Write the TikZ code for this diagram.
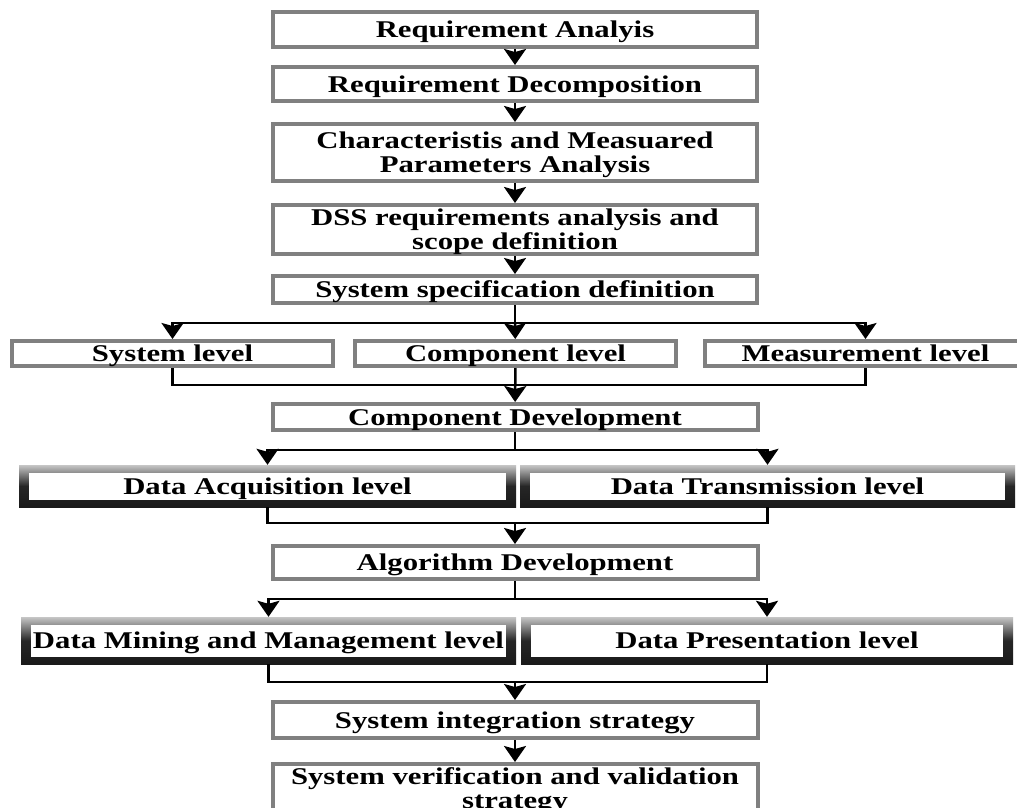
\documentclass[tikz,border=0pt]{standalone}
\usepackage{fontspec}
\usetikzlibrary{arrows.meta}
\newfontfamily\boxfont{Liberation Serif}[FakeStretch=1.28]
\definecolor{bord}{HTML}{808080}
\tikzset{
  oneline/.style={text height=16pt, text depth=0pt},
  twoline/.style={text height=40pt, text depth=0pt},
  box/.style={draw=bord, line width=4pt, fill=white, inner sep=0pt, align=center,
    font=\boxfont\bfseries\fontsize{24}{24}\selectfont, text=black, oneline},
  bevel/.style={inner sep=0pt, align=center, top color=gray!45, bottom color=black!90,
    middle color=black!85, draw=none, oneline,
    font=\boxfont\bfseries\fontsize{24}{24}\selectfont, text=black,
    path picture={\fill[white] ([xshift=10pt,yshift=-8pt]path picture bounding box.north west)
      rectangle ([xshift=-10pt,yshift=7pt]path picture bounding box.south east);}},
  conn/.style={draw=black, line width=2.5pt},
  arr/.style={conn, -{Stealth[length=16pt,width=22pt,inset=3pt]}}
}
\begin{document}
\begin{tikzpicture}[x=1pt,y=-1pt]
\useasboundingbox (0,0) rectangle (1017,807);
\fill[white] (0,0) rectangle (1017,807);
\clip (0,0) rectangle (1017,807);
% top chain
\node[box, minimum width=484pt, minimum height=35pt] (ra) at (515,29.5) {Requirement Analyis};
\node[box, minimum width=484pt, minimum height=34pt] (rd) at (515,84) {Requirement Decomposition};
\node[box, twoline, minimum width=484pt, minimum height=57pt] (cp) at (515,152.5) {Characteristis and Measuared\\Parameters Analysis};
\node[box, twoline, minimum width=484pt, minimum height=49pt] (dss) at (515,229.5) {DSS requirements analysis and\\scope definition};
\node[box, minimum width=484pt, minimum height=27pt] (ssd) at (515,289.5) {System specification definition};
% level row
\node[box, minimum width=321pt, minimum height=25pt] (sl) at (172.5,353.5) {System level};
\node[box, minimum width=321pt, minimum height=25pt] (cl) at (515.5,353.5) {Component level};
\node[box, minimum width=321pt, minimum height=25pt] (ml) at (865.5,353.5) {Measurement level};
\node[box, minimum width=485pt, minimum height=26pt] (cd) at (515,417) {Component Development};
% bevel row 1
\node[bevel, minimum width=497pt, minimum height=42pt] (da) at (267.5,486) {Data Acquisition level};
\node[bevel, minimum width=495pt, minimum height=42pt] (dt) at (767.5,486) {Data Transmission level};
\node[box, minimum width=485pt, minimum height=33pt] (ad) at (515,562.5) {Algorithm Development};
% bevel row 2
\node[bevel, minimum width=495pt, minimum height=47pt] (dm) at (268.5,640.5) {Data Mining and Management level};
\node[bevel, minimum width=492pt, minimum height=47pt] (dp) at (767,640.5) {Data Presentation level};
\node[box, minimum width=485pt, minimum height=36pt] (si) at (515,720) {System integration strategy};
\node[box, twoline, minimum width=485pt, minimum height=48pt] (sv) at (515,788) {System verification and validation\\strategy};
% junction coordinates
\coordinate (b1) at (515,323);
\coordinate (c1) at (515,385);
\coordinate (b2) at (515,450);
\coordinate (c2) at (515,523);
\coordinate (b3) at (515,599);
\coordinate (c3) at (515,682);
% connectors
\draw[arr] (ra) -- (rd);
\draw[arr] (rd) -- (cp);
\draw[arr] (cp) -- (dss);
\draw[arr] (dss) -- (ssd);
\draw[conn] (ssd) -- (b1);
\draw[arr] (b1) -| (sl);
\draw[arr] (b1) -- (cl);
\draw[arr] (b1) -| (ml);
\draw[conn] (sl) |- (c1);
\draw[conn] (ml) |- (c1);
\draw[arr] (cl) -- (cd);
\draw[conn] (cd) -- (b2);
\draw[arr] (b2) -| (da);
\draw[arr] (b2) -| (dt);
\draw[conn] (da) |- (c2);
\draw[conn] (dt) |- (c2);
\draw[arr] (c2) -- (ad);
\draw[conn] (ad) -- (b3);
\draw[arr] (b3) -| (dm);
\draw[arr] (b3) -| (dp);
\draw[conn] (dm) |- (c3);
\draw[conn] (dp) |- (c3);
\draw[arr] (c3) -- (si);
\draw[arr] (si) -- (sv);
\end{tikzpicture}
\end{document}
